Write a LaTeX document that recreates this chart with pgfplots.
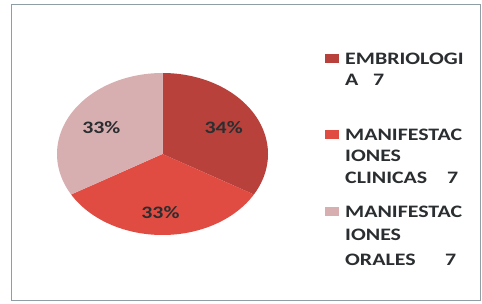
\documentclass[border=0pt]{standalone}
\usepackage{pgfplots}
\pgfplotsset{compat=1.18}
\usepackage{pgfplotstable}
\usepackage{fontspec}
\setmainfont{Carlito}[FakeStretch=1.25]

\definecolor{cA}{HTML}{B8413C}
\definecolor{cB}{HTML}{E04B42}
\definecolor{cC}{HTML}{D8AFB1}
\definecolor{frm}{HTML}{8E9EA4}
\definecolor{txt}{HTML}{2A2E30}

\pgfplotstableread{
name value
Embriologia 7
Clinicas 7
Orales 7
}\piedata

\begin{document}%
\begin{tikzpicture}[x=1bp,y=1bp]
\pgfplotstablegetelem{0}{value}\of\piedata \pgfmathsetmacro{\va}{\pgfplotsretval}
\pgfplotstablegetelem{1}{value}\of\piedata \pgfmathsetmacro{\vb}{\pgfplotsretval}
\pgfplotstablegetelem{2}{value}\of\piedata \pgfmathsetmacro{\vc}{\pgfplotsretval}
\pgfmathsetmacro{\tot}{\va+\vb+\vc}
\pgfmathsetmacro{\aA}{90-360*\va/\tot}
\pgfmathsetmacro{\aB}{\aA-360*\vb/\tot}
\pgfmathsetmacro{\aC}{\aB-360*\vc/\tot}
\useasboundingbox (0,0) rectangle (482,303);
\draw[frm, line width=1pt] (11,3) rectangle (480,299);
\begin{axis}[at={(57bp,68bp)}, anchor=south west, scale only axis,
  width=211bp, height=162bp, xmin=-1, xmax=1, ymin=-1, ymax=1,
  hide axis, clip=false]
\addplot[fill=cA, draw=none, domain=\aA:90, samples=90, variable=\t] ({cos(\t)},{sin(\t)}) -- (axis cs:0,0) -- cycle;
\addplot[fill=cB, draw=none, domain=\aB:\aA, samples=90, variable=\t] ({cos(\t)},{sin(\t)}) -- (axis cs:0,0) -- cycle;
\addplot[fill=cC, draw=none, domain=\aC:\aB, samples=90, variable=\t] ({cos(\t)},{sin(\t)}) -- (axis cs:0,0) -- cycle;
\node[font=\fontsize{17.5bp}{20bp}\selectfont\bfseries, text=txt] at (axis cs:0.58,0.33) {34\%};
\node[font=\fontsize{17.5bp}{20bp}\selectfont\bfseries, text=txt] at (axis cs:-0.02,-0.72) {33\%};
\node[font=\fontsize{17.5bp}{20bp}\selectfont\bfseries, text=txt] at (axis cs:-0.58,0.33) {33\%};
\end{axis}
% legend
\tikzset{lg/.style={anchor=base west, inner sep=0pt, text=txt, font=\fontsize{17.5bp}{20bp}\selectfont\bfseries}}
\fill[cA] (325,{303-64+1}) rectangle (339,{303-64+10});
\fill[cB] (325,{303-140+1}) rectangle (339,{303-140+10});
\fill[cC] (325,{303-217+1}) rectangle (339,{303-217+10});
\node[lg] at (345,{303-64}) {EMBRIOLOGI};
\node[lg] at (345,{303-85}) {A};
\node[lg] at (373,{303-85}) {7};
\node[lg] at (345,{303-140}) {MANIFESTAC};
\node[lg] at (345,{303-161}) {IONES};
\node[lg] at (345,{303-183}) {CLINICAS};
\node[lg] at (447,{303-183}) {7};
\node[lg] at (345,{303-217}) {MANIFESTAC};
\node[lg] at (345,{303-240}) {IONES};
\node[lg] at (345,{303-265}) {ORALES};
\node[lg] at (445,{303-265}) {7};
\end{tikzpicture}%
\end{document}
